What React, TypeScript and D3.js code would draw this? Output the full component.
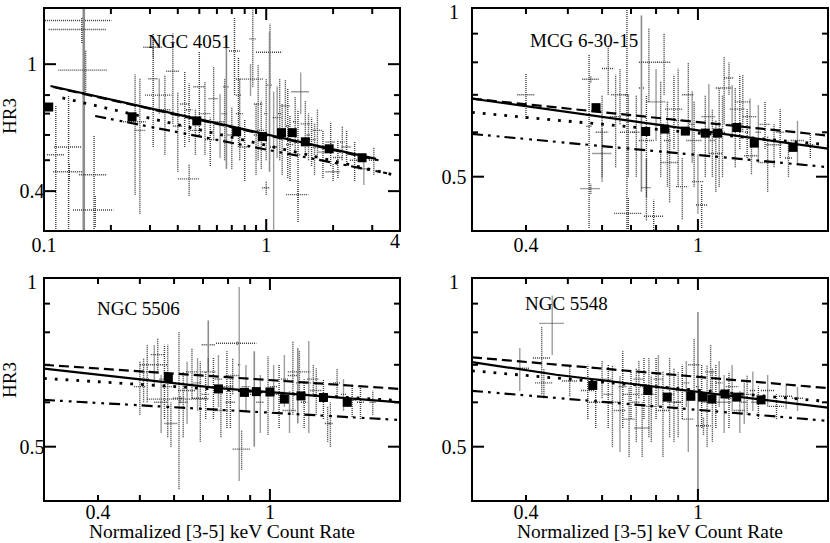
import React from "react";
import * as d3 from "d3";

// [x, dx, y, dy, solid?]  symmetric linear errors
type Bar = number[];
type Pt = [number, number];

const ngc4051Bars: Bar[] = [
  [0.151, 0.05, 1.37, 1.1, 1], [0.148, 0.043, 1.285, 0.12], [0.154, 0.038, 0.958, 0.15],
  [0.129, 0.018, 0.55, 0.25], [0.113, 0.01, 0.52, 0.22], [0.13, 0.02, 0.46, 0.03],
  [0.168, 0.024, 0.45, 0.15], [0.17, 0.035, 0.349, 0.04], [0.257, 0.03, 0.66, 0.27],
  [0.27, 0.015, 0.62, 0.28], [0.31, 0.015, 0.9, 0.35], [0.33, 0.045, 0.8, 0.1],
  [0.31, 0.03, 1.13, 0.08], [0.35, 0.02, 0.72, 0.2], [0.38, 0.025, 0.95, 0.3],
  [0.4, 0.02, 0.64, 0.18], [0.45, 0.05, 0.437, 0.05], [0.43, 0.02, 0.75, 0.2],
  [0.48, 0.025, 0.62, 0.1], [0.5, 0.03, 0.85, 0.25], [0.53, 0.03, 0.7, 0.18],
  [0.56, 0.03, 0.58, 0.1], [0.58, 0.03, 0.78, 0.2], [0.62, 0.03, 0.66, 0.15],
  [0.662, 0.02, 0.85, 0.38, 1], [0.7, 0.03, 0.6, 0.13], [0.72, 0.04, 1.1, 0.3],
  [0.85, 0.12, 0.898, 0.1], [0.76, 0.03, 0.7, 0.2], [0.8, 0.04, 0.55, 0.12],
  [0.87, 0.03, 1.2, 0.35], [0.92, 0.04, 0.75, 0.25], [0.95, 0.04, 0.62, 0.15],
  [1.04, 0.14, 1.09, 0.25], [1.035, 0.03, 0.86, 0.4, 1], [1.08, 0.04, 0.55, 0.27],
  [1.12, 0.05, 0.68, 0.17], [1.18, 0.05, 0.6, 0.15], [1.22, 0.06, 0.74, 0.15],
  [1.28, 0.05, 0.56, 0.13], [1.43, 0.13, 0.82, 0.12], [1.39, 0.16, 0.39, 0.02],
  [1.39, 0.04, 0.52, 0.2], [1.5, 0.07, 0.65, 0.12], [1.6, 0.07, 0.58, 0.1],
  [1.7, 0.08, 0.62, 0.1], [1.8, 0.08, 0.53, 0.09], [1.95, 0.1, 0.57, 0.09],
  [2.1, 0.1, 0.51, 0.07], [2.3, 0.12, 0.55, 0.07], [2.5, 0.12, 0.5, 0.07],
  [2.75, 0.15, 0.47, 0.05], [3.05, 0.15, 0.5, 0.05], [2.0, 0.15, 0.46, 0.03],
  [1.0, 0.04, 0.41, 0.02], [0.9, 0.02, 0.6, 0.15], [1.0, 0.02, 0.7, 0.2],
  [1.15, 0.02, 0.7, 0.2], [1.25, 0.02, 0.64, 0.2], [1.35, 0.03, 0.66, 0.13],
  [1.55, 0.03, 0.6, 0.1], [1.65, 0.03, 0.55, 0.1], [2.2, 0.05, 0.57, 0.07],
  [0.65, 0.02, 0.7, 0.2], [0.75, 0.02, 0.8, 0.25], [0.45, 0.015, 0.72, 0.15],
];
const ngc4051Bins: Pt[] = [
  [0.105, 0.734], [0.249, 0.684], [0.487, 0.664], [0.736, 0.614], [0.962, 0.593],
  [1.171, 0.61], [1.31, 0.61], [1.5, 0.571], [1.92, 0.543], [2.7, 0.509],
];
const ngc4051Solid: Pt[] = [[0.107, 0.854], [3.12, 0.505]];
const ngc4051Dashed: Pt[] = [[0.11, 0.848], [3.2, 0.5]];
const ngc4051Dotted: Pt[] = [[0.121, 0.784], [3.69, 0.451]];
const ngc4051DashDot: Pt[] = [[0.17, 0.688], [3.5, 0.455]];

const mcgBars: Bar[] = [
  [0.4, 0.018, 0.7, 0.066], [0.56, 0.008, 0.615, 0.21], [0.565, 0.025, 0.746, 0.01],
  [0.565, 0.03, 0.476, 0.01], [0.6, 0.03, 0.55, 0.06], [0.6, 0.02, 0.6, 0.1],
  [0.645, 0.02, 0.64, 0.12], [0.66, 0.03, 0.7, 0.08], [0.69, 0.05, 0.43, 0.03],
  [0.685, 0.008, 0.7, 0.3], [0.74, 0.01, 0.72, 0.25, 1], [0.77, 0.04, 0.8, 0.12],
  [0.835, 0.03, 0.8, 0.1], [0.76, 0.02, 0.478, 0.06], [0.79, 0.04, 0.425, 0.03],
  [0.69, 0.03, 0.6, 0.1], [0.76, 0.03, 0.58, 0.12], [0.8, 0.04, 0.68, 0.1],
  [0.86, 0.04, 0.53, 0.08], [0.88, 0.04, 0.66, 0.1], [0.92, 0.03, 0.48, 0.06],
  [0.98, 0.04, 0.58, 0.1], [1.0, 0.03, 0.49, 0.06], [1.02, 0.03, 0.445, 0.04],
  [1.06, 0.04, 0.64, 0.09], [1.1, 0.04, 0.55, 0.08], [1.15, 0.05, 0.72, 0.1],
  [1.18, 0.03, 0.75, 0.05], [1.22, 0.04, 0.62, 0.1], [1.27, 0.05, 0.68, 0.08],
  [1.32, 0.05, 0.64, 0.05], [1.33, 0.05, 0.545, 0.04], [1.43, 0.04, 0.62, 0.06],
  [1.45, 0.06, 0.53, 0.06], [1.5, 0.06, 0.57, 0.05], [1.7, 0.06, 0.58, 0.05],
  [1.82, 0.04, 0.57, 0.03], [0.9, 0.02, 0.63, 0.15], [0.95, 0.03, 0.7, 0.1],
  [1.12, 0.03, 0.6, 0.12], [1.25, 0.03, 0.66, 0.1], [0.62, 0.02, 0.78, 0.08],
  [0.72, 0.015, 0.6, 0.1], [0.82, 0.015, 0.62, 0.12], [0.85, 0.015, 0.58, 0.1],
  [0.97, 0.015, 0.62, 0.09], [1.04, 0.015, 0.6, 0.1], [1.08, 0.015, 0.58, 0.08],
  [1.14, 0.015, 0.6, 0.1], [1.2, 0.015, 0.66, 0.07], [1.3, 0.015, 0.6, 0.06],
  [1.38, 0.02, 0.6, 0.07], [1.55, 0.03, 0.6, 0.06], [1.62, 0.03, 0.54, 0.04],
];
const mcgBins: Pt[] = [
  [0.581, 0.664], [0.757, 0.602], [0.838, 0.608], [0.935, 0.603], [1.04, 0.598],
  [1.11, 0.598], [1.23, 0.612], [1.35, 0.574], [1.66, 0.564],
];
const mcgSolid: Pt[] = [[0.3, 0.689], [2.0, 0.561]];
const mcgDashed: Pt[] = [[0.3, 0.689], [2.0, 0.592]];
const mcgDotted: Pt[] = [[0.3, 0.651], [2.0, 0.57]];
const mcgDashDot: Pt[] = [[0.3, 0.596], [2.0, 0.52]];

const ngc5506Bars: Bar[] = [
  [0.54, 0.04, 0.7, 0.06], [0.55, 0.02, 0.73, 0.05], [0.72, 0.025, 0.76, 0.08, 1],
  [0.849, 0.005, 0.7, 0.265], [0.84, 0.09, 0.765, 0.005], [0.86, 0.04, 0.495, 0.04],
  [0.616, 0.02, 0.61, 0.19], [0.59, 0.02, 0.55, 0.05], [1.17, 0.07, 0.68, 0.06],
  [1.16, 0.01, 0.65, 0.1, 1], [1.23, 0.02, 0.65, 0.12], [1.36, 0.02, 0.55, 0.04],
  [1.43, 0.03, 0.65, 0.04], [1.73, 0.03, 0.6, 0.03], [1.55, 0.04, 0.605, 0.04],
  [0.643, 0.03, 0.63, 0.08], [0.69, 0.03, 0.61, 0.1], [0.74, 0.03, 0.64, 0.08],
  [0.795, 0.03, 0.64, 0.1], [0.92, 0.03, 0.62, 0.12, 1], [0.99, 0.04, 0.625, 0.1],
  [1.05, 0.04, 0.62, 0.08], [1.11, 0.04, 0.58, 0.05], [1.28, 0.04, 0.63, 0.06],
  [0.56, 0.02, 0.6, 0.07], [0.52, 0.02, 0.68, 0.08], [0.66, 0.02, 0.68, 0.07],
  [0.77, 0.03, 0.58, 0.06], [0.62, 0.1, 0.608, 0.01], [1.13, 0.03, 0.67, 0.1],
  [1.26, 0.04, 0.66, 0.04], [0.82, 0.03, 0.67, 0.05], [0.72, 0.03, 0.68, 0.04],
  [0.51, 0.015, 0.66, 0.06], [0.58, 0.015, 0.64, 0.12], [0.5, 0.015, 0.64, 0.07],
  [0.57, 0.015, 0.66, 0.1], [0.63, 0.015, 0.6, 0.08], [0.68, 0.015, 0.65, 0.07],
  [0.71, 0.015, 0.62, 0.06], [0.76, 0.015, 0.66, 0.07], [0.81, 0.02, 0.6, 0.06],
  [0.88, 0.02, 0.64, 0.06], [0.95, 0.02, 0.6, 0.07], [1.02, 0.02, 0.64, 0.06],
  [1.08, 0.02, 0.66, 0.07], [1.2, 0.02, 0.6, 0.06], [1.33, 0.02, 0.61, 0.05],
  [1.48, 0.02, 0.62, 0.04], [1.62, 0.03, 0.6, 0.04], [1.38, 0.02, 0.55, 0.05],
];
const ngc5506Bins: Pt[] = [
  [0.582, 0.662], [0.76, 0.634], [0.873, 0.625], [0.93, 0.627], [1.0, 0.626],
  [1.08, 0.608], [1.18, 0.616], [1.33, 0.612], [1.51, 0.6],
];
const ngc5506Solid: Pt[] = [[0.3, 0.689], [0.76, 0.636], [2.0, 0.6]];
const ngc5506Dashed: Pt[] = [[0.3, 0.7], [2.0, 0.634]];
const ngc5506Dotted: Pt[] = [[0.3, 0.662], [2.0, 0.604]];
const ngc5506DashDot: Pt[] = [[0.3, 0.606], [2.0, 0.558]];

const ngc5548Bars: Bar[] = [
  [0.46, 0.03, 0.83, 0.1], [0.435, 0.02, 0.72, 0.1], [0.44, 0.02, 0.65, 0.04],
  [0.387, 0.02, 0.69, 0.06], [0.505, 0.02, 0.655, 0.04], [0.556, 0.02, 0.63, 0.07],
  [0.6, 0.03, 0.66, 0.05], [0.634, 0.03, 0.6, 0.1], [0.693, 0.02, 0.56, 0.08],
  [0.743, 0.03, 0.54, 0.06], [0.77, 0.03, 0.62, 0.1], [0.7, 0.03, 0.62, 0.06],
  [0.66, 0.02, 0.58, 0.09], [0.83, 0.03, 0.58, 0.1], [0.8, 0.03, 0.64, 0.08],
  [0.88, 0.03, 0.6, 0.09], [0.92, 0.03, 0.63, 0.07], [1.0, 0.01, 0.64, 0.23, 1],
  [0.98, 0.03, 0.7, 0.08], [1.03, 0.04, 0.545, 0.02], [1.05, 0.03, 0.6, 0.1],
  [1.07, 0.03, 0.68, 0.08], [1.1, 0.03, 0.62, 0.08], [1.15, 0.04, 0.6, 0.07],
  [1.2, 0.04, 0.64, 0.06], [1.25, 0.04, 0.58, 0.05], [1.3, 0.05, 0.62, 0.05],
  [1.38, 0.05, 0.6, 0.04], [1.45, 0.05, 0.63, 0.04], [1.52, 0.06, 0.59, 0.03],
  [1.6, 0.06, 0.615, 0.03], [0.58, 0.02, 0.6, 0.06], [0.95, 0.03, 0.56, 0.07],
  [0.73, 0.02, 0.66, 0.05], [0.62, 0.015, 0.62, 0.08], [0.67, 0.015, 0.64, 0.1],
  [0.72, 0.015, 0.6, 0.09], [0.75, 0.015, 0.64, 0.08], [0.78, 0.02, 0.59, 0.08],
  [0.81, 0.02, 0.66, 0.07], [0.86, 0.02, 0.62, 0.1], [0.9, 0.02, 0.6, 0.08],
  [0.94, 0.02, 0.65, 0.06], [1.02, 0.02, 0.62, 0.08], [1.08, 0.02, 0.6, 0.09],
  [1.12, 0.02, 0.65, 0.06], [1.18, 0.02, 0.61, 0.07], [1.28, 0.02, 0.6, 0.05],
  [1.34, 0.02, 0.63, 0.05], [1.7, 0.05, 0.61, 0.03],
];
const ngc5548Bins: Pt[] = [
  [0.571, 0.643], [0.766, 0.63], [0.849, 0.613], [0.963, 0.615], [1.025, 0.613],
  [1.077, 0.608], [1.155, 0.621], [1.23, 0.613], [1.4, 0.606],
];
const ngc5548Solid: Pt[] = [[0.3, 0.708], [0.47, 0.672], [2.0, 0.587]];
const ngc5548Dashed: Pt[] = [[0.3, 0.722], [2.0, 0.636]];
const ngc5548Dotted: Pt[] = [[0.3, 0.683], [2.0, 0.602]];
const ngc5548DashDot: Pt[] = [[0.3, 0.629], [2.0, 0.556]];

const xTicksWide = [0.2, 0.3, 0.4, 0.5, 0.6, 0.7, 0.8, 0.9, 1, 2, 3];
const xLabelsWide = [0.1, 1, 4];
const xTicksNarrow = [0.4, 0.5, 0.6, 0.7, 0.8, 0.9, 1];
const xLabelsNarrow = [0.4, 1];
const yTicksWide = [0.4, 0.5, 0.6, 0.7, 0.8, 1];
const yLabelsWide = [0.4, 1];
const yTicksNarrow = [0.5, 0.6, 0.7, 0.8, 0.9, 1];
const yLabelsNarrow = [0.5, 1];

const PW = 356, PH = 223;
const FONT = "'Liberation Serif', 'Times New Roman', serif";

const panels = [
  { id: "p1", name: "NGC 4051", x0: 44, y0: 8, xd: [0.1, 4], yd: [0.3, 1.5],
    xt: xTicksWide, xl: xLabelsWide, yt: yTicksWide, yl: yLabelsWide,
    bars: ngc4051Bars, bins: ngc4051Bins, solid: ngc4051Solid, dashed: ngc4051Dashed,
    dotted: ngc4051Dotted, dashdot: ngc4051DashDot, tx: 104, ty: 40, hr3: 108, title: false, ylx: 12, lby: 21 },
  { id: "p2", name: "MCG 6-30-15", x0: 472, y0: 8, xd: [0.3, 2], yd: [0.4, 1],
    xt: xTicksNarrow, xl: xLabelsNarrow, yt: yTicksNarrow, yl: yLabelsNarrow,
    bars: mcgBars, bins: mcgBins, solid: mcgSolid, dashed: mcgDashed,
    dotted: mcgDotted, dashdot: mcgDashDot, tx: 58, ty: 39, hr3: 0, title: false, ylx: 18, lby: 21 },
  { id: "p3", name: "NGC 5506", x0: 44, y0: 278, xd: [0.3, 2], yd: [0.4, 1],
    xt: xTicksNarrow, xl: xLabelsNarrow, yt: yTicksNarrow, yl: yLabelsNarrow,
    bars: ngc5506Bars, bins: ngc5506Bins, solid: ngc5506Solid, dashed: ngc5506Dashed,
    dotted: ngc5506Dotted, dashdot: ngc5506DashDot, tx: 53, ty: 37, hr3: 102, title: true, ylx: 12, lby: 18 },
  { id: "p4", name: "NGC 5548", x0: 472, y0: 278, xd: [0.3, 2], yd: [0.4, 1],
    xt: xTicksNarrow, xl: xLabelsNarrow, yt: yTicksNarrow, yl: yLabelsNarrow,
    bars: ngc5548Bars, bins: ngc5548Bins, solid: ngc5548Solid, dashed: ngc5548Dashed,
    dotted: ngc5548Dotted, dashdot: ngc5548DashDot, tx: 53, ty: 32, hr3: 0, title: true, ylx: 18, lby: 18 },
];

function Panel({ p }: { p: any }) {
  const x1 = p.x0 + PW, y1 = p.y0 + PH;
  const x = d3.scaleLog().domain(p.xd).range([p.x0, x1]);
  const y = d3.scaleLog().domain(p.yd).range([y1, p.y0]);
  const line = d3.line<Pt>().x(d => x(d[0])).y(d => y(d[1]));
  const lo = (v: number, d: number, min: number) => Math.max(v - d, min * 0.3);
  const isMajor = (v: number) => Math.abs(Math.log10(v) - Math.round(Math.log10(v))) < 1e-6;
  const stipple = { stroke: "#3c3c3c", strokeWidth: 1.4, strokeDasharray: "1 1" };

  return (
    <g>
      <defs>
        <clipPath id={`clip-${p.id}`}>
          <rect x={p.x0} y={p.y0} width={PW} height={PH} />
        </clipPath>
      </defs>
      <g clipPath={`url(#clip-${p.id})`}>
        {p.bars.map((b: Bar, i: number) => {
          const solid = b[4] === 1;
          const vst = solid
            ? { stroke: "#8c8c8c", strokeWidth: i === 0 && p.id === "p1" ? 2.6 : 1.6 }
            : stipple;
          return (
            <g key={i}>
              <line {...stipple} x1={x(lo(b[0], b[1], p.xd[0]))} x2={x(b[0] + b[1])} y1={y(b[2])} y2={y(b[2])} />
              <line {...vst} x1={x(b[0])} x2={x(b[0])} y1={y(lo(b[2], b[3], p.yd[0]))} y2={y(b[2] + b[3])} />
            </g>
          );
        })}
        <g fill="none" stroke="#000">
          <path d={line(p.dashed) || ""} strokeWidth={2.2} strokeDasharray="10 5" />
          <path d={line(p.dotted) || ""} strokeWidth={2.8} strokeDasharray="2.8 8" />
          <path d={line(p.dashdot) || ""} strokeWidth={2.2} strokeDasharray="11 5 2.8 6 2.8 5" />
          <path d={line(p.solid) || ""} strokeWidth={2.2} />
        </g>
        {p.bins.map((d: Pt, i: number) => (
          <rect key={i} x={x(d[0]) - 4.5} y={y(d[1]) - 4.5} width={9} height={9} fill="#000" />
        ))}
      </g>
      <rect x={p.x0} y={p.y0} width={PW} height={PH} fill="none" stroke="#000" strokeWidth={2} />
      <g stroke="#000" strokeWidth={2}>
        {p.xt.map((v: number) => {
          const len = isMajor(v) ? 12 : 6;
          const xx = x(v);
          return (
            <g key={v}>
              <line x1={xx} x2={xx} y1={y1} y2={y1 - len} />
              <line x1={xx} x2={xx} y1={p.y0} y2={p.y0 + len} />
            </g>
          );
        })}
        {p.yt.map((v: number) => {
          const len = p.yl.includes(v) ? 12 : 6;
          const yy = y(v);
          return (
            <g key={v}>
              <line x1={p.x0} x2={p.x0 + len} y1={yy} y2={yy} />
              <line x1={x1} x2={x1 - len} y1={yy} y2={yy} />
            </g>
          );
        })}
      </g>
      <g fontFamily={FONT} fontSize={20} fill="#000">
        {p.xl.map((v: number) => {
          const atEnd = v === p.xd[1];
          return (
            <text key={v} x={atEnd ? x1 : x(v)} y={atEnd ? y1 + p.lby - 4 : y1 + p.lby}
              textAnchor={atEnd ? "end" : "middle"}>{String(v)}</text>
          );
        })}
        {p.yl.map((v: number) => (
          <text key={v} x={p.x0 - p.ylx} y={Math.max(y(v), p.y0 + 4)} dy="0.35em" textAnchor="middle">{String(v)}</text>
        ))}
      </g>
      <text x={p.x0 + p.tx} y={p.y0 + p.ty} fontFamily={FONT} fontSize={19}>{p.name}</text>
      {p.hr3 > 0 && (
        <text transform={`translate(16,${p.y0 + p.hr3}) rotate(-90)`} textAnchor="middle"
          fontFamily={FONT} fontSize={19}>HR3</text>
      )}
      {p.title && (
        <text x={p.x0 + PW / 2} y={538} textAnchor="middle" fontFamily={FONT} fontSize={19.5}>
          Normalized [3-5] keV Count Rate
        </text>
      )}
    </g>
  );
}

export default function App() {
  return (
    <svg width={830} height={543} style={{ position: "absolute", left: 0, top: 0, background: "#fff" }}>
      <rect width={830} height={543} fill="#fff" />
      {panels.map(p => <Panel key={p.id} p={p} />)}
    </svg>
  );
}
